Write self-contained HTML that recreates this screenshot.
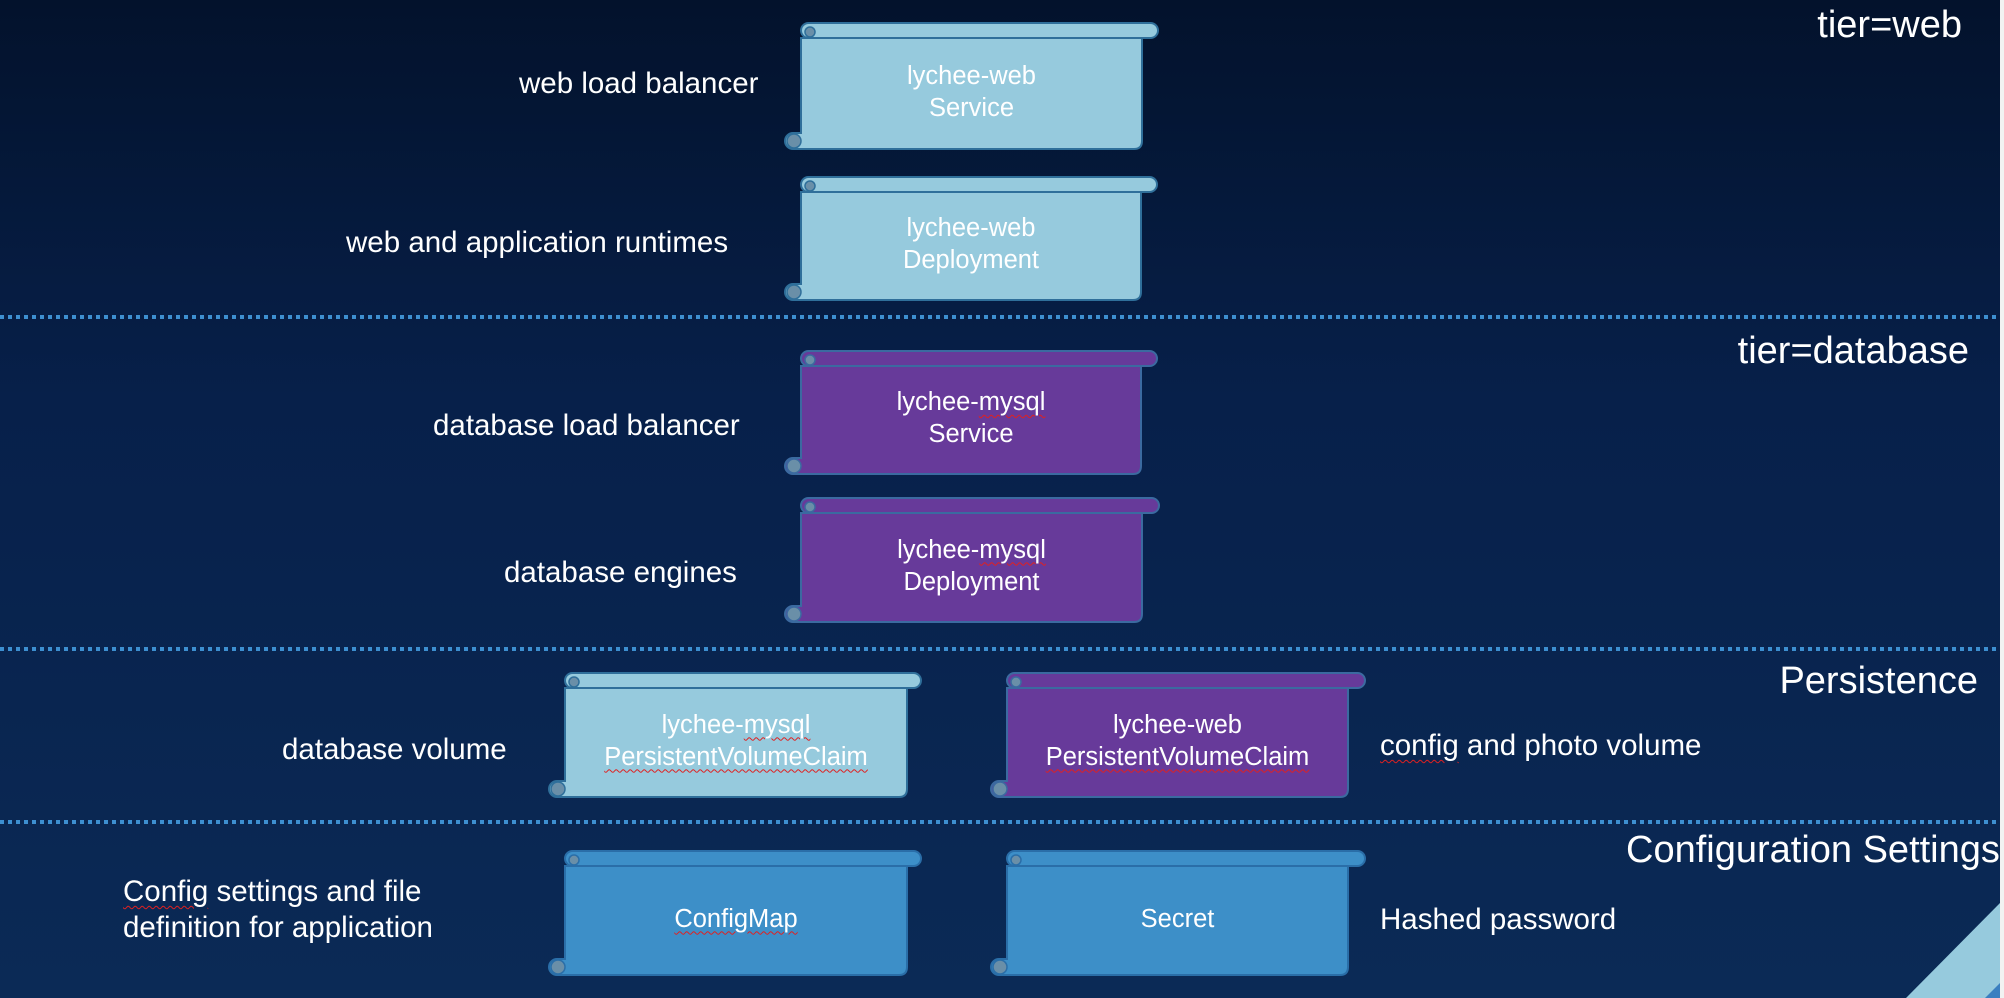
<!DOCTYPE html>
<html><head><meta charset="utf-8"><style>
html,body{margin:0;padding:0}
body{width:2004px;height:998px;overflow:hidden;position:relative;background:linear-gradient(180deg,#03122c 0%,#07204a 40%,#0b2a56 100%);font-family:"Liberation Sans",Arial,sans-serif;color:#fff}
.t{position:absolute;white-space:nowrap;font-size:29.5px;line-height:36px}
.h{position:absolute;white-space:nowrap;font-size:38px;line-height:42px}
.b{position:absolute;width:400px;text-align:center;font-size:25.5px;line-height:32px;white-space:nowrap}
.sq{text-decoration:underline wavy #e02020;text-decoration-thickness:1px;text-underline-offset:4px}
svg{position:absolute;left:0;top:0}
</style></head><body>
<svg id="s" width="2004" height="998"></svg>
<div class="h" style="right:42px;top:4px">tier=web</div>
<div class="h" style="right:35px;top:330px">tier=database</div>
<div class="h" style="right:26px;top:660px">Persistence</div>
<div class="h" style="left:1626px;top:829px">Configuration Settings</div>

<div class="t" style="left:519px;top:66px">web load balancer</div>
<div class="t" style="left:346px;top:225px">web and application runtimes</div>
<div class="t" style="left:433px;top:408px">database load balancer</div>
<div class="t" style="left:504px;top:555px">database engines</div>
<div class="t" style="left:282px;top:732px">database volume</div>
<div class="t" style="left:1380px;top:728px"><span class="sq">config</span> and photo volume</div>
<div class="t" style="left:123px;top:874px"><span class="sq">Config</span> settings and file<br>definition for application</div>
<div class="t" style="left:1380px;top:902px">Hashed password</div>
<div style="position:absolute;right:0;top:0;width:4px;height:998px;background:#f2f2f2"></div>
<script>
var s=document.getElementById('s'),h='',d='';
for(const y of [317,649,822]){h+='<line x1="0" y1="'+y+'" x2="2000" y2="'+y+'" stroke="#3d8fd0" stroke-width="4" stroke-dasharray="4 4"/>';}
h+='<polygon points="1906,998 2000,903 2000,998" fill="#96cadd"/><polygon points="1985,998 2000,983 2000,998" fill="#3a7fc0"/>';
function box(x1,x2,br,yt,yb,fill,st,l1,l2){
 var bh=15;
 h+='<path d="M'+x1+' '+(yt+bh)+' L'+x2+' '+(yt+bh)+' L'+x2+' '+(yb-8)+' Q'+x2+' '+yb+' '+(x2-8)+' '+yb+' L'+(x1-8)+' '+yb+' A8 8 0 0 1 '+(x1-8)+' '+(yb-16)+' L'+x1+' '+(yb-16)+' Z" fill="'+fill+'" stroke="'+st+'" stroke-width="2"/>';
 h+='<rect x="'+x1+'" y="'+yt+'" width="'+(br-x1)+'" height="'+bh+'" rx="7.5" fill="'+fill+'" stroke="'+st+'" stroke-width="2"/>';
 h+='<circle cx="'+(x1+9)+'" cy="'+(yt+9)+'" r="5" fill="#6a8fa8" stroke="'+st+'" stroke-width="1.5"/>';
 h+='<circle cx="'+(x1-7)+'" cy="'+(yb-8)+'" r="7" fill="#6a8fa8" stroke="'+st+'" stroke-width="1.5"/>';
 var cx=(x1+x2)/2,cy=(yt+bh+yb)/2;
 if(l2){d+='<div class="b" style="left:'+(cx-200)+'px;top:'+(cy-34)+'px">'+l1+'<br>'+l2+'</div>';}
 else{d+='<div class="b" style="left:'+(cx-200)+'px;top:'+(cy-18)+'px">'+l1+'</div>';}
}
var L='#96cadd',LS='#2f6f9a',P='#673a9a',PS='#3b6aa0',B='#3d8fc8',BS='#2a6ea8';
var M='lychee-<span class="sq">mysql</span>',V='<span class="sq">PersistentVolumeClaim</span>';
box(801,1142,1158,23,149,L,LS,'lychee-web','Service');
box(801,1141,1157,177,300,L,LS,'lychee-web','Deployment');
box(801,1141,1157,351,474,P,PS,M,'Service');
box(801,1142,1159,498,622,P,PS,M,'Deployment');
box(565,907,921,673,797,L,LS,M,V);
box(1007,1348,1365,673,797,P,PS,'lychee-web',V);
box(565,907,921,851,975,B,BS,'<span class="sq">ConfigMap</span>');
box(1007,1348,1365,851,975,B,BS,'Secret');
s.innerHTML=h;
document.body.insertAdjacentHTML('beforeend',d);
</script>
</body></html>
